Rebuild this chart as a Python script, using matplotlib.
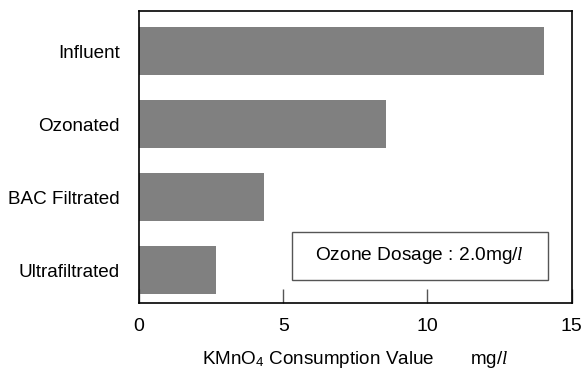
import matplotlib
matplotlib.use("Agg")
import matplotlib.pyplot as plt
from matplotlib.patches import Rectangle

plt.rcParams["font.family"] = ["Liberation Sans", "DejaVu Sans"]
plt.rcParams["mathtext.fontset"] = "custom"
plt.rcParams["mathtext.rm"] = "Liberation Sans"
plt.rcParams["mathtext.it"] = "Liberation Serif:italic"

categories = ["Influent", "Ozonated", "BAC Filtrated", "Ultrafiltrated"]
kmno4_values = [14.05, 8.55, 4.33, 2.66]
x_ticks = [0, 5, 10, 15]

BAR_COLOR = "#808080"

fig = plt.figure(figsize=(5.84, 3.69), dpi=100)
ax = fig.add_axes([0.238, 0.179, 0.741, 0.791])

positions = list(range(len(categories)))
ax.barh(positions, kmno4_values, height=0.65, color=BAR_COLOR, edgecolor="none")

ax.set_xlim(0, 15)
ax.set_ylim(3.45, -0.55)
ax.set_xticks(x_ticks)
ax.set_xticklabels([str(t) for t in x_ticks], fontsize=14)
ax.tick_params(axis="x", direction="in", length=10, width=1, color="#555555", pad=11)
ax.set_yticks(positions)
ax.set_yticklabels(categories, fontsize=13.6)
ax.tick_params(axis="y", length=0, pad=14)

for spine in ax.spines.values():
    spine.set_linewidth(1.2)
    spine.set_color("black")

ax.set_xlabel(r"KMnO$_{\mathrm{4}}$ Consumption Value       mg/$\mathit{l}$",
              fontsize=13.6, labelpad=10)

# note box with the ozone dose
box = Rectangle((0.353, 0.08), 0.592, 0.162, transform=ax.transAxes,
                facecolor="white", edgecolor="#555555", linewidth=1.0)
ax.add_patch(box)
ax.text(0.649, 0.161, r"Ozone Dosage : 2.0mg/$\mathit{l}$", transform=ax.transAxes,
        ha="center", va="center", fontsize=13.8)

fig.savefig("out.png", dpi=100)
